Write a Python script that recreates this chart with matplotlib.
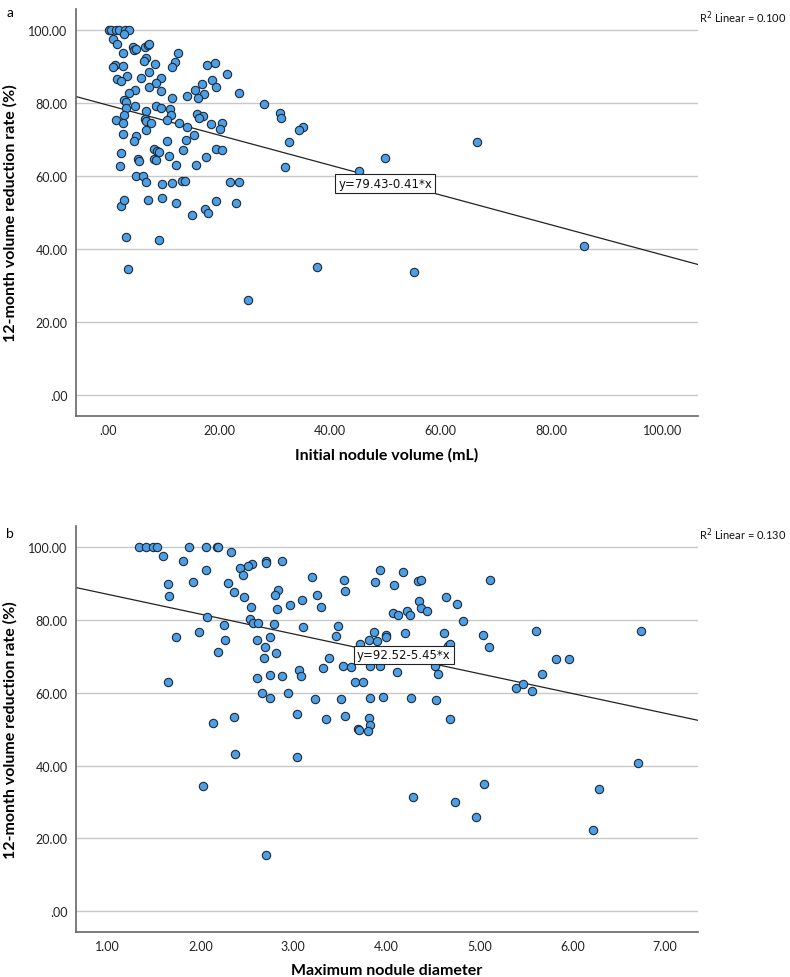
import matplotlib
matplotlib.use("Agg")
import matplotlib.pyplot as plt
import numpy as np
from matplotlib import transforms
from matplotlib.ticker import FuncFormatter, MultipleLocator

# Panel a: initial nodule volume (mL) vs 12-month volume reduction rate (%)
vol_x = [0.2, 0.6, 1.4, 2.0, 3.0, 3.8, 2.8, 0.9, 1.6, 4.5, 4.6, 5.1, 6.6, 7.1, 7.3,
         2.7, 12.6, 6.8, 6.5, 12.0, 11.5, 8.4, 1.2, 0.8, 2.7, 17.8, 19.3, 21.4, 7.4,
         3.4, 9.6, 5.9, 1.6, 2.3, 18.7, 19.4, 8.6, 17.0, 7.4, 15.6, 4.8, 3.8, 9.6,
         17.3, 23.6, 14.3, 11.6, 16.2, 2.8, 3.3, 28.1, 4.8, 8.7, 9.6, 3.3, 11.1, 11.4,
         6.8, 2.9, 16.0, 17.2, 16.4, 31.0, 31.1, 1.4, 6.6, 6.8, 10.6, 2.6, 7.7, 12.8,
         18.5, 20.6, 20.2, 14.2, 6.8, 35.2, 34.4, 2.6, 5.1, 4.7, 15.4, 10.7, 14.0, 32.6,
         19.4, 20.6, 8.3, 8.9, 9.1, 13.5, 2.4, 11.0, 17.6, 5.4, 5.6, 8.3, 8.7, 15.8,
         12.2, 2.1, 31.9, 5.1, 6.2, 6.8, 9.8, 11.5, 13.4, 13.9, 22.0, 23.6, 2.4, 2.9,
         7.1, 9.8, 12.2, 15.2, 17.5, 18.1, 19.4, 23.0, 3.3, 9.2, 3.5, 37.7, 25.3, 50.0,
         66.5, 45.3, 55.2, 85.9]
vol_y = [100.0, 100.0, 100.0, 100.0, 100.0, 100.0, 98.9, 97.7, 96.2, 95.5, 94.6, 94.8,
         95.5, 96.0, 96.2, 93.7, 93.7, 92.5, 91.6, 91.2, 89.8, 90.7, 90.4, 89.8, 90.1,
         90.4, 91.0, 88.0, 88.4, 87.5, 87.0, 87.0, 86.6, 86.2, 86.4, 84.4, 85.5, 85.2,
         84.3, 83.7, 83.6, 82.9, 83.4, 82.5, 82.7, 81.9, 81.5, 81.3, 80.8, 80.2, 79.7,
         79.3, 79.3, 78.8, 78.6, 78.4, 76.7, 77.9, 76.7, 77.0, 76.4, 75.8, 77.2, 75.9,
         75.4, 75.6, 75.2, 75.4, 74.5, 74.5, 74.5, 74.3, 74.5, 72.9, 73.5, 72.6, 73.5,
         72.6, 71.5, 71.1, 69.7, 71.3, 69.7, 69.9, 69.4, 67.4, 67.2, 67.4, 67.0, 66.7,
         67.2, 66.3, 65.6, 65.2, 64.7, 64.1, 64.7, 64.4, 63.1, 63.1, 62.9, 62.4, 60.0,
         60.1, 58.5, 57.8, 58.0, 58.6, 58.7, 58.3, 58.5, 51.9, 53.5, 53.5, 54.1, 52.7,
         49.4, 51.0, 49.9, 53.1, 52.7, 43.3, 42.4, 34.5, 35.0, 26.1, 65.1, 69.3, 61.5,
         33.7, 40.8]

# Panel b: maximum nodule diameter vs 12-month volume reduction rate (%)
dia_x = [1.34, 1.42, 1.49, 1.53, 1.88, 2.06, 2.18, 2.19, 1.60, 2.33, 1.81, 2.71, 2.71,
         2.56, 2.51, 2.43, 2.88, 2.06, 2.46, 3.20, 3.55, 3.56, 1.65, 1.92, 2.30, 2.84,
         2.80, 3.25, 1.66, 2.36, 2.47, 3.09, 2.96, 3.30, 2.54, 2.83, 2.07, 2.53, 2.57,
         2.62, 2.79, 2.26, 3.48, 3.46, 3.10, 1.99, 1.74, 2.75, 2.27, 2.61, 2.70, 2.81,
         2.19, 2.68, 3.38, 3.32, 3.53, 3.62, 3.06, 3.08, 2.61, 2.75, 2.88, 3.66, 1.65,
         2.66, 2.94, 2.75, 3.23, 3.51, 3.04, 3.35, 3.56, 3.70, 2.14, 2.36, 2.37, 3.04,
         2.03, 2.71, 3.93, 3.88, 4.18, 4.08, 4.34, 4.37, 5.12, 4.35, 4.37, 4.44, 4.64,
         4.76, 4.07, 4.13, 4.22, 4.25, 4.83, 3.87, 3.81, 3.90, 4.00, 4.00, 4.20, 3.72,
         4.62, 5.04, 5.10, 4.66, 4.69, 5.61, 6.74, 3.82, 3.93, 4.11, 4.52, 4.56, 3.75,
         5.83, 5.96, 5.67, 5.39, 5.47, 5.57, 3.83, 3.96, 4.27, 4.54, 3.81, 3.83, 3.71,
         3.80, 4.69, 6.71, 5.05, 6.29, 4.29, 4.74, 4.97, 6.22]
dia_y = [100.0, 100.0, 100.0, 100.0, 100.0, 100.0, 100.0, 100.0, 97.6, 98.8, 96.1, 96.3,
         95.6, 95.4, 94.9, 94.4, 96.1, 93.8, 92.4, 91.7, 91.0, 88.0, 89.9, 90.5, 90.1,
         88.3, 86.9, 86.9, 86.5, 87.6, 86.2, 85.4, 84.2, 83.6, 83.5, 82.9, 80.7, 80.3,
         79.2, 79.2, 78.9, 78.5, 78.3, 75.7, 78.0, 76.7, 75.4, 75.4, 74.4, 74.4, 72.6,
         71.0, 71.3, 69.6, 69.7, 66.9, 67.5, 67.2, 66.4, 64.5, 64.1, 64.8, 64.7, 63.1,
         62.9, 60.0, 60.0, 58.7, 58.2, 58.2, 54.1, 52.7, 53.6, 50.0, 51.8, 53.4, 43.2,
         42.3, 34.4, 15.6, 93.6, 90.4, 93.2, 89.7, 90.7, 90.9, 91.1, 85.1, 83.3, 82.6,
         86.3, 84.4, 81.9, 81.5, 82.6, 81.3, 79.7, 76.8, 74.5, 74.3, 75.8, 75.4, 76.5,
         73.5, 76.5, 75.9, 72.6, 72.8, 73.5, 77.1, 77.1, 67.5, 67.5, 65.6, 67.3, 65.1,
         63.1, 69.2, 69.4, 65.1, 61.4, 62.3, 60.5, 58.5, 58.8, 58.6, 58.1, 53.2, 51.1,
         49.9, 49.4, 52.7, 40.7, 34.9, 33.7, 31.5, 30.1, 26.0, 22.2]

# fitted lines and r-squared as printed in the figure
fit_a = (79.43, -0.41)
fit_b = (92.52, -5.45)
r2_a = 0.100
r2_b = 0.130

plt.rcParams['font.family'] = ['Lato', 'DejaVu Sans']


def spss_fmt(v, pos):
    s = "%.2f" % v
    if s.startswith("0."):
        s = s[1:]
    return s


def draw_panel(ax, x, y, fit, r2, xlim, xstep, xlabel, eq_xy):
    ax.set_xlim(*xlim)
    ax.set_ylim(-5.6, 105.8)
    ax.yaxis.set_major_locator(MultipleLocator(20))
    ax.xaxis.set_major_locator(MultipleLocator(xstep))
    ax.xaxis.set_major_formatter(FuncFormatter(spss_fmt))
    ax.yaxis.set_major_formatter(FuncFormatter(spss_fmt))
    ax.grid(axis='y', color='#c8c8c8', lw=1.0, zorder=0)
    ax.set_axisbelow(True)
    for s in ['top', 'right']:
        ax.spines[s].set_visible(False)
    for s in ['left', 'bottom']:
        ax.spines[s].set_color('#666666')
        ax.spines[s].set_linewidth(1.2)
    ax.tick_params(length=0, labelsize=9, colors='#222222', pad=6)

    # regression line across the full x range
    xs = np.array(xlim)
    ax.plot(xs, fit[0] + fit[1] * xs, color='#222222', lw=0.9, zorder=2)

    ax.scatter(x, y, s=36, c='#4a9fe6', edgecolors='#1e2a36', linewidths=0.8, zorder=3)

    sign = '-' if fit[1] < 0 else '+'
    ax.text(eq_xy[0], eq_xy[1], "y=%.2f%s%.2f*x" % (fit[0], sign, abs(fit[1])),
            fontsize=8.5, ha='center', va='center', zorder=4, color='#111111',
            family=['DejaVu Sans'],
            bbox=dict(boxstyle='square,pad=0.25', fc='white', ec='#222222', lw=0.8))

    ax.set_xlabel(xlabel, fontsize=11.5, fontweight='bold', labelpad=8)
    ax.set_ylabel("12-month volume reduction rate (%)", fontsize=11.5, fontweight='bold',
                  labelpad=8)
    trans = transforms.blended_transform_factory(ax.transAxes, ax.transData)
    ax.text(1.002, 103.6, "R$^2$ Linear = %.3f" % r2, transform=trans, fontsize=8,
            ha='left', va='center', color='#111111')


fig = plt.figure(figsize=(7.9, 9.78), dpi=100)
ax_a = fig.add_axes([0.0962, 0.574, 0.7873, 0.4158])
ax_b = fig.add_axes([0.0962, 0.0463, 0.7873, 0.4148])

draw_panel(ax_a, vol_x, vol_y, fit_a, r2_a, (-5.8, 106.4), 20,
           "Initial nodule volume (mL)", (50.0, 58.0))
draw_panel(ax_b, dia_x, dia_y, fit_b, r2_b, (0.663, 7.352), 1,
           "Maximum nodule diameter", (4.19, 70.4))

fig.text(0.008, 0.987, "a", fontsize=10, va='center', ha='left')
fig.text(0.008, 0.454, "b", fontsize=10, va='center', ha='left')

fig.savefig("out.png", dpi=100)
